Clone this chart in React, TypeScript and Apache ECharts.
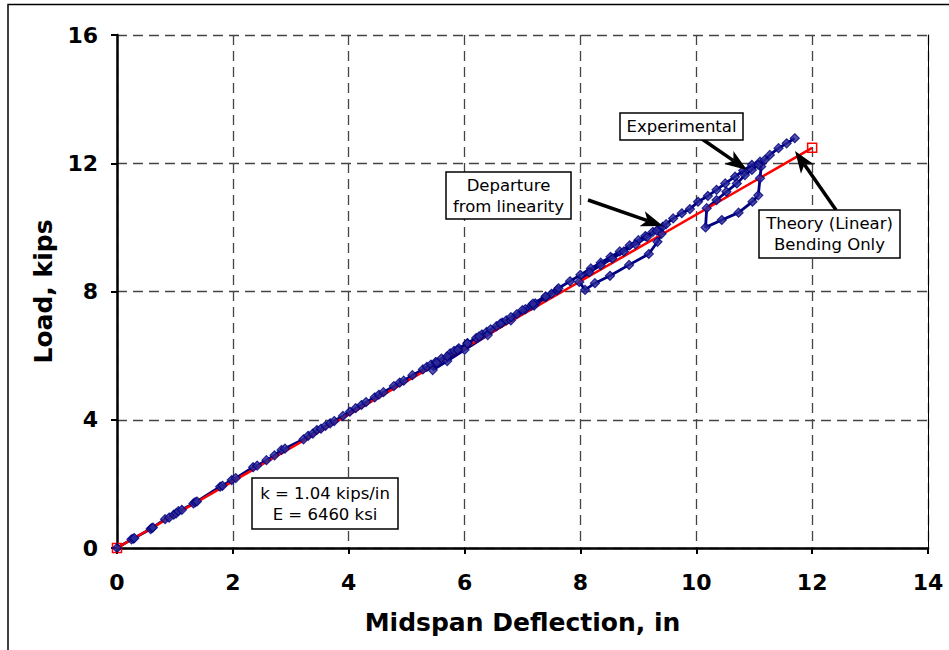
import React, { useEffect, useRef } from "react";
import * as echarts from "echarts";

// Experimental load-deflection record (deflection in, load kips)
const expX = [
  0, 0.25, 0.28, 0.3, 0.58, 0.6, 0.62, 0.83, 0.9, 0.98, 1.02, 1.06, 1.12, 1.32, 1.35, 1.38, 1.78, 1.82, 1.98, 2.05,
  2.35, 2.42, 2.58, 2.72, 2.84, 2.9, 3.22, 3.3, 3.38, 3.45, 3.52, 3.6, 3.68, 3.75, 3.9, 4.02, 4.12, 4.22, 4.3, 4.45,
  4.52, 4.6, 4.78, 4.88, 4.95, 5.1, 5.28, 5.35, 5.42, 5.5, 5.6, 5.75, 5.82, 5.9, 6.05, 6.2, 6.3, 6.38, 6.55, 6.65,
  6.72, 6.9, 7.05, 7.15, 7.22, 7.4, 7.5, 7.6,
  7.2, 6.8, 6.4, 6.0, 5.7, 5.45,
  5.52, 5.7, 5.88, 6.05, 6.25, 6.45, 6.62, 6.8, 7.0, 7.18, 7.4, 7.62, 7.82, 8.0, 8.18, 8.35, 8.52, 8.68, 8.85, 9.0,
  9.12, 9.25, 9.35, 9.42,
  9.4, 9.33, 9.18, 8.84, 8.51, 8.25, 8.08,
  7.98, 8.15, 8.35, 8.55, 8.75, 8.95, 9.15, 9.32, 9.48, 9.6, 9.75, 9.89, 10.03, 10.2, 10.35, 10.5, 10.67, 10.81,
  10.96, 11.1,
  11.12, 11.1, 11.07, 10.97, 10.73, 10.44, 10.16,
  10.18, 10.35, 10.52, 10.7, 10.84, 10.96, 11.07, 11.18, 11.27, 11.42, 11.56, 11.7,
];
const expY = [
  0, 0.27, 0.29, 0.31, 0.59, 0.62, 0.64, 0.9, 0.95, 1.04, 1.08, 1.15, 1.19, 1.39, 1.43, 1.45, 1.91, 1.94, 2.12, 2.18,
  2.52, 2.57, 2.74, 2.89, 3.06, 3.1, 3.39, 3.5, 3.57, 3.68, 3.72, 3.81, 3.89, 3.96, 4.12, 4.25, 4.36, 4.46, 4.55, 4.7,
  4.78, 4.86, 5.05, 5.16, 5.22, 5.39, 5.57, 5.65, 5.72, 5.8, 5.91, 6.07, 6.15, 6.23, 6.39, 6.55, 6.66, 6.74, 6.92, 7.03,
  7.1, 7.29, 7.45, 7.56, 7.63, 7.82, 7.93, 8.04,
  7.56, 7.1, 6.64, 6.18, 5.83, 5.55,
  5.78, 5.98, 6.18, 6.38, 6.6, 6.82, 7.0, 7.2, 7.42, 7.62, 7.85, 8.1, 8.32, 8.52, 8.72, 8.9, 9.08, 9.25, 9.44, 9.6,
  9.73, 9.86, 9.95, 10.02,
  9.8, 9.55, 9.17, 8.83, 8.49, 8.26, 8.05,
  8.3, 8.6, 8.82, 9.03, 9.25, 9.47, 9.7, 9.9, 10.1, 10.28, 10.44, 10.57, 10.8, 10.98, 11.17, 11.37, 11.58, 11.77,
  11.95, 12.05,
  11.9, 11.53, 11.0, 10.8, 10.46, 10.23, 10.0,
  10.6, 10.85, 11.11, 11.37, 11.63, 11.79, 11.95, 12.1, 12.26, 12.47, 12.62, 12.78,
];

// Theory (linear), bending only: k = 1.04 kips/in
const theoryX = [0, 12];
const theoryY = [0, 12.48];

const xTicks = [0, 2, 4, 6, 8, 10, 12, 14];
const yTicks = [0, 4, 8, 12, 16];

const FONT = "'DejaVu Sans', Verdana, sans-serif";

function arrow(x1: number, y1: number, x2: number, y2: number) {
  const dx = x2 - x1;
  const dy = y2 - y1;
  const len = Math.sqrt(dx * dx + dy * dy);
  const ux = dx / len;
  const uy = dy / len;
  const nx = -uy;
  const ny = ux;
  const L = 22;
  const W = 8;
  const bx = x2 - ux * L;
  const by = y2 - uy * L;
  const cx = x2 - ux * L * 0.75;
  const cy = y2 - uy * L * 0.75;
  return [
    {
      type: "line",
      shape: { x1, y1, x2: cx, y2: cy },
      style: { stroke: "#000", lineWidth: 3.5 },
      z: 100,
    },
    {
      type: "polygon",
      shape: {
        points: [
          [x2, y2],
          [bx + nx * W, by + ny * W],
          [cx, cy],
          [bx - nx * W, by - ny * W],
        ],
      },
      style: { fill: "#000" },
      z: 100,
    },
  ];
}

function box(x: number, y: number, w: number, h: number, text: string) {
  return [
    {
      type: "rect",
      shape: { x, y, width: w, height: h },
      style: { fill: "#fff", stroke: "#000", lineWidth: 1.5 },
      z: 101,
    },
    {
      type: "text",
      x: x + w / 2,
      y: y + h / 2,
      style: {
        text,
        font: `16.5px ${FONT}`,
        fill: "#000",
        align: "center",
        verticalAlign: "middle",
        lineHeight: 21,
      },
      z: 102,
    },
  ];
}

export default function App() {
  const ref = useRef<HTMLDivElement>(null);

  useEffect(() => {
    document.body.style.margin = "0";
    if (!ref.current) return;
    const chart = echarts.init(ref.current, null, { renderer: "svg" });

    const expData = expX.map((x, i) => [x, expY[i]]);
    const theoryData = theoryX.map((x, i) => [x, theoryY[i]]);

    const axisLabelStyle = {
      fontFamily: FONT,
      fontWeight: "bold" as const,
      fontSize: 22,
      color: "#000",
    };

    chart.setOption({
      animation: false,
      backgroundColor: "#fff",
      grid: { left: 117, right: 21, top: 35, bottom: 102, containLabel: false },
      xAxis: {
        type: "value",
        min: xTicks[0],
        max: xTicks[xTicks.length - 1],
        interval: 2,
        name: "Midspan Deflection, in",
        nameLocation: "middle",
        nameGap: 62,
        nameTextStyle: { fontFamily: FONT, fontWeight: "bold", fontSize: 25, color: "#000" },
        axisLine: { show: true, lineStyle: { color: "#000", width: 2.5 } },
        axisTick: { show: true, length: 6, lineStyle: { color: "#000", width: 2 } },
        axisLabel: { ...axisLabelStyle, margin: 23 },
        splitLine: { show: true, lineStyle: { color: "#444", width: 1.3, type: [10, 6] } },
      },
      yAxis: [
        {
          type: "value",
          min: yTicks[0],
          max: yTicks[yTicks.length - 1],
          interval: 4,
          name: "Load, kips",
          nameLocation: "middle",
          nameGap: 61,
          nameTextStyle: { fontFamily: FONT, fontWeight: "bold", fontSize: 25, color: "#000" },
          axisLine: { show: true, lineStyle: { color: "#000", width: 2.5 } },
          axisTick: { show: true, length: 6, lineStyle: { color: "#000", width: 2 } },
          axisLabel: { ...axisLabelStyle, margin: 19 },
          splitLine: { show: true, lineStyle: { color: "#444", width: 1.3, type: [10, 6] } },
        },
        {
          type: "value",
          position: "right",
          min: yTicks[0],
          max: yTicks[yTicks.length - 1],
          interval: 4,
          axisLine: { show: true, lineStyle: { color: "#000", width: 1 } },
          axisTick: { show: false },
          axisLabel: { show: false },
          splitLine: { show: false },
        },
      ],
      series: [
        {
          name: "Experimental",
          type: "line",
          data: expData,
          showSymbol: false,
          lineStyle: { color: "#000080", width: 2.8 },
          z: 2,
        },
        {
          name: "Theory (Linear) Bending Only",
          type: "line",
          data: theoryData,
          symbol: "rect",
          symbolSize: 9,
          showSymbol: true,
          lineStyle: { color: "#ff0000", width: 2.5 },
          itemStyle: { color: "rgba(0,0,0,0)", borderColor: "#ff0000", borderWidth: 1.5 },
          z: 3,
        },
        {
          name: "Experimental points",
          type: "scatter",
          data: expData,
          symbol: "diamond",
          symbolSize: 9,
          itemStyle: { color: "#2a2a9a", borderColor: "#000080", borderWidth: 1.2 },
          z: 4,
        },
      ],
      graphic: [
        {
          type: "rect",
          shape: { x: 8, y: 4.5, width: 1200, height: 1200 },
          style: { fill: "none", stroke: "#000", lineWidth: 1.5 },
          z: 0,
          silent: true,
        },
        ...arrow(702, 139, 747, 170),
        ...arrow(588, 200, 663, 226),
        ...arrow(836, 210, 795, 151),
        ...box(620, 113, 123, 27, "Experimental"),
        ...box(446, 172, 125, 47, "Departure\nfrom linearity"),
        ...box(759, 210, 141, 48, "Theory (Linear)\nBending Only"),
        ...box(252, 478, 146, 51, "k = 1.04 kips/in\nE = 6460 ksi"),
      ],
    });

    return () => chart.dispose();
  }, []);

  return <div ref={ref} style={{ width: 949, height: 650 }} />;
}
